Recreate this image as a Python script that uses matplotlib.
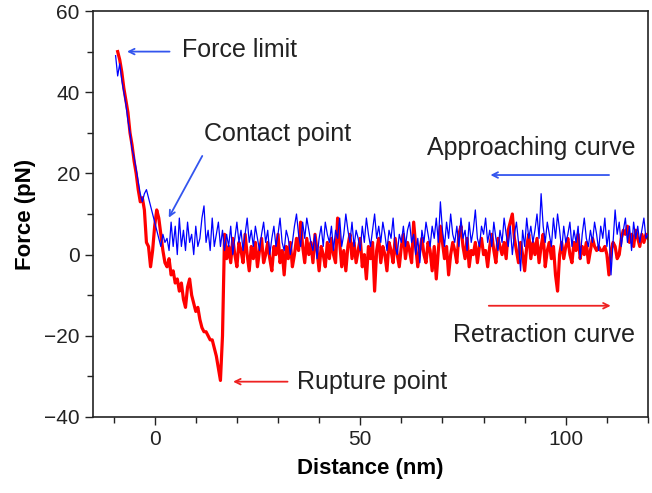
import numpy as np
import matplotlib
matplotlib.use("Agg")
import matplotlib.pyplot as plt
from matplotlib.ticker import MultipleLocator

plt.rcParams['font.family'] = ['Liberation Sans', 'DejaVu Sans']

# Retraction curve (red), sampled every 0.5 nm from -9 to 120 nm
red_start, red_step = -9.0, 0.5
red_force = [
    50, 48, 45, 41, 38, 35, 30, 27, 23, 20,
    16, 13, 14, 11, 3, 2, -3, 1, 7, 11,
    9, 5, 1, -2, -3, -1, -5, -4, -7, -6,
    -9, -7, -11, -13, -8, -6, -10, -12, -14, -13,
    -16, -18, -19, -19, -20, -21, -21, -23, -25, -28,
    -31, -20, 5,
    -1, 2, -2, 4, 0, -3, 3, 1, -2, 5,
    0, -4, 2, -1, 3, -3, 1, 4, -2, 0,
    3, -1, -4, 2, 0, 5, -2, 1, -5, 2,
    -1, 3, -3, 0, 4, 1, 8, 2, -2, 4,
    0, 3, -2, 5, 1, -4, 2, 0, -3, 3,
    -1, 4, 0, -2, 9, 3, -3, 1, -4, 2,
    5, -1, 3, -2, 1, 4, -3, 0, -6, 2,
    -1, 3, -9, 1, 4, -2, 2, 0, -4, 3,
    1, -2, 4, 0, -3, 2, 5, -1, 3, 1,
    -2, 8, 2, -3, 1, 4, 0, -2, 3, 1,
    -4, 2, -6, 1, 7, 3, -1, 2, -5, 0,
    3, 1, -2, 5, 7, 2, -1, 4, -3, 1,
    0, 3, -2, 2, 4, 0, 1, -3, 2, 5,
    1, -2, 4, 2, 0, 3, -1, 6, 8, 10,
    4, 1, -2, 3, 0, -4, 2, 5, -1, 3,
    0, 4, -2, 2, 5, -3, 1, 3, -1, 2,
    -5, -9, 0, 3, -1, 2, 4, 0, -2, 3,
    1, 5, -1, 2, 0, 3, -2, 1, 4, 2,
    1, 2, 1, 1, 2, 0, -5, 1, 3, 2,
    -1, 0, 4, 6, 5, 7, 3, 5, 2, 6,
    4, 2, 5, 3, 5, 4,
]

# Approaching curve (blue), sampled every 0.5 nm from -9.5 to 120 nm
blue_start, blue_step = -9.5, 0.5
blue_force = [
    49, 44, 47, 43, 40, 37, 33, 30, 26, 24,
    21, 18, 15, 13, 15, 16, 14, 12, 10, 8,
    6, 4, 2, 5, 3, 4, 1, 8, 2, 7,
    0, 9, 2, 6, 1, 8, 3, 5, 0, 7,
    2, 4, 9, 12, 3, 6, 1, 9, 2, 5,
    8, 2, 6, 1,
    5, 2, 7, 0, 4, 8, 3, 6, 1, 5,
    9, 3, 6, 2, 7, 4, 1, 5, 8, 3,
    6, 0, 4, 7, 2, 5, 9, 3, 1, 6,
    4, 0, 3, 7, 10, 5, 2, 8, 4, 9,
    6, 3, 1, 5, -1, 4, 7, 2, 8, 5,
    3, 7, 1, 6, 4, 9, 2, 5, 10, 6,
    3, 8, 2, 6, 4, 1, 7, 3, 9, 5,
    2, 6, 10, 4, 7, 3, 8, 5, 1, 6,
    4, 9, 2, 0, 5, 3, 7, 2, 6, 8,
    3, 5, 0, 4, -2, 6, 3, 8, 5, 2,
    7, 4, 9, 3, 13, 6, 2, 8, 4, 10,
    5, 3, 7, 2, 9, 4, 6, 1, 8, 3,
    6, 11, 4, 2, 7, 5, 9, 3, 6, 2,
    8, 4, 1, 6, 3, 9, 5, 2, 7, 0,
    5, 8, 3, -4, 6, 2, 9, 4, 7, 3,
    6, 10, 4, 15, 7, 3, 8, 5, 2, 9,
    4, 10, 6, 1, 7, 3, 5, 8, 2, 6,
    3, 7, -1, 5, 9, 4, 2, 6, 3, 8,
    5, 1, 7, 4, 9, 2, 6, -5, 3, 11,
    5, 8, 2, 6, 9, 3, 7, 1, 8, 4,
    7, 3, 6, 9, 4, 5,
]

red_x = red_start + red_step * np.arange(len(red_force))
blue_x = blue_start + blue_step * np.arange(len(blue_force))

fig = plt.figure(figsize=(6.52, 4.93), dpi=100)
ax = fig.add_axes([93/652, 76/493, 555/652, 406/493])

ax.plot(red_x, red_force, color='#ff0000', lw=2.3, zorder=2)
ax.plot(blue_x, blue_force, color='#0000ff', lw=0.9, zorder=3)

ax.set_xlim(-15, 120)
ax.set_ylim(-40, 60)
ax.xaxis.set_major_locator(MultipleLocator(50))
ax.xaxis.set_minor_locator(MultipleLocator(10))
ax.yaxis.set_major_locator(MultipleLocator(20))
ax.yaxis.set_minor_locator(MultipleLocator(10))
ax.tick_params(which='both', direction='out', top=False, right=False,
               labelsize=15, width=1, colors='#222222', labelcolor='#222222')
ax.tick_params(which='major', length=6)
ax.tick_params(which='minor', length=4)
for s in ax.spines.values():
    s.set_linewidth(1.2)
    s.set_color('#222222')

ax.set_xlabel('Distance (nm)', fontsize=16, fontweight='bold', labelpad=6)
ax.set_ylabel('Force (pN)', fontsize=16, fontweight='bold', labelpad=6)

blue_arrow = '#3355ee'
red_arrow = '#ee2222'
fs = 18
ax.annotate('', xy=(-7.4, 50), xytext=(4.3, 50),
            arrowprops=dict(arrowstyle='->', color=blue_arrow, lw=1.3))
ax.text(6.7, 50.5, 'Force limit', fontsize=fs, va='center', ha='left', color='#222222')

ax.annotate('', xy=(3.1, 8.5), xytext=(11.9, 24.9),
            arrowprops=dict(arrowstyle='->', color=blue_arrow, lw=1.3))
ax.text(12.0, 29.8, 'Contact point', fontsize=fs, va='center', ha='left', color='#222222')

ax.annotate('', xy=(81, 19.6), xytext=(111.2, 19.6),
            arrowprops=dict(arrowstyle='->', color=blue_arrow, lw=1.3))
ax.text(66.3, 26.3, 'Approaching curve', fontsize=fs, va='center', ha='left', color='#222222')

ax.annotate('', xy=(111.6, -12.6), xytext=(80.6, -12.6),
            arrowprops=dict(arrowstyle='->', color=red_arrow, lw=1.3))
ax.text(72.6, -19.8, 'Retraction curve', fontsize=fs, va='center', ha='left', color='#222222')

ax.annotate('', xy=(18.4, -31.3), xytext=(33, -31.3),
            arrowprops=dict(arrowstyle='->', color=red_arrow, lw=1.3))
ax.text(34.6, -31.3, 'Rupture point', fontsize=fs, va='center', ha='left', color='#222222')

fig.savefig('out.png', dpi=100)
